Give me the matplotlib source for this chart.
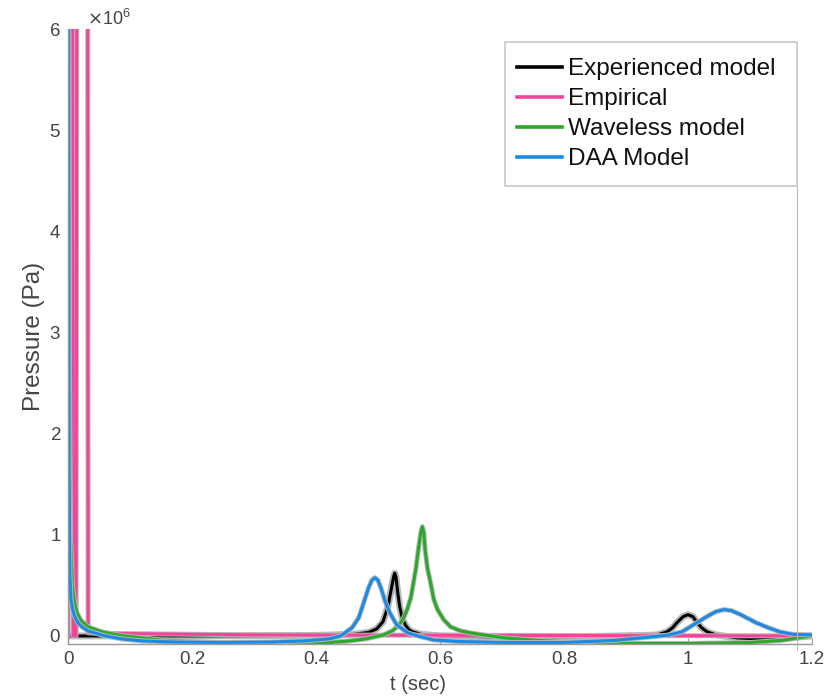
import matplotlib
matplotlib.use("Agg")
import matplotlib.pyplot as plt
import matplotlib.patheffects as pe
from matplotlib.lines import Line2D
from matplotlib.patches import Rectangle
from matplotlib.ticker import ScalarFormatter

plt.rcParams['font.family'] = ['Liberation Sans', 'DejaVu Sans']

MEGA = 1e6

# Experienced model
t_exp = [0, 0.05, 0.2, 0.4, 0.46, 0.485, 0.498, 0.508, 0.516, 0.521, 0.525, 0.527,
         0.529, 0.532, 0.535, 0.539, 0.544, 0.55, 0.556, 0.57, 0.6, 0.7, 0.85, 0.93,
         0.95, 0.966, 0.975, 0.982, 0.992, 1.0, 1.008, 1.015, 1.022, 1.031, 1.045,
         1.08, 1.12, 1.16, 1.2]
p_exp = [0, 0.0, 0.0, 0.005, 0.015, 0.035, 0.07, 0.14, 0.29, 0.45, 0.58, 0.62,
         0.58, 0.42, 0.29, 0.18, 0.11, 0.06, 0.04, 0.015, 0.0, -0.01, -0.005, 0.005,
         0.01, 0.04, 0.08, 0.13, 0.19, 0.21, 0.19, 0.13, 0.08, 0.04, 0.01,
         -0.02, -0.03, -0.02, 0.0]

# Empirical
t_emp = [0, 0.0005, 0.007, 0.0085, 0.013, 0.0145, 0.0315, 0.0325, 0.06, 0.3, 0.7, 1.2]
p_emp = [0, 8, 8, 0.0, 0.0, 8, 8, 0.03, 0.025, 0.01, 0.005, 0.0]

# Waveless model
t_wav = [0, 0.001, 0.002, 0.004, 0.007, 0.0105, 0.0145, 0.02, 0.032, 0.055, 0.09,
         0.15, 0.25, 0.35, 0.4, 0.453, 0.48, 0.509, 0.523, 0.531, 0.54, 0.547, 0.553,
         0.557, 0.561, 0.565, 0.569, 0.5715, 0.574, 0.576, 0.58, 0.585, 0.59, 0.596,
         0.606, 0.617, 0.633, 0.649, 0.67, 0.705, 0.76, 0.81, 0.9, 1.0, 1.1, 1.15, 1.2]
p_wav = [8, 7, 3, 1.0, 0.5, 0.33, 0.23, 0.16, 0.09, 0.04, 0.0,
         -0.04, -0.07, -0.08, -0.075, -0.05, -0.03, 0.01, 0.05, 0.09, 0.16, 0.26, 0.38,
         0.52, 0.66, 0.85, 1.02, 1.08, 1.02, 0.85, 0.66, 0.52, 0.36, 0.26,
         0.16, 0.09, 0.05, 0.03, 0.01, -0.02, -0.045, -0.06, -0.075, -0.075, -0.065, -0.045, 0.0]

# DAA Model
t_daa = [0, 0.001, 0.002, 0.003, 0.005, 0.008, 0.011, 0.016, 0.0225, 0.032, 0.043,
         0.06, 0.087, 0.12, 0.172, 0.25, 0.33, 0.38, 0.42, 0.44, 0.458, 0.469, 0.477,
         0.485, 0.49, 0.495, 0.5, 0.505, 0.511, 0.519, 0.53, 0.548, 0.57, 0.59, 0.63,
         0.7, 0.8, 0.88, 0.94, 0.97, 0.99, 1.017, 1.03, 1.045, 1.058, 1.07, 1.085,
         1.11, 1.13, 1.148, 1.17, 1.2]
p_daa = [8, 6, 1.5, 0.6, 0.35, 0.25, 0.19, 0.13, 0.09, 0.05, 0.03,
         0.0, -0.03, -0.05, -0.06, -0.065, -0.06, -0.05, -0.03, 0.0, 0.08, 0.18, 0.33,
         0.48, 0.55, 0.575, 0.55, 0.47, 0.35, 0.23, 0.11, 0.03, -0.01, -0.04, -0.055,
         -0.065, -0.065, -0.045, -0.01, 0.01, 0.04, 0.14, 0.19, 0.24, 0.26, 0.25, 0.21,
         0.13, 0.08, 0.04, 0.015, 0.01]

series = [
    ("Experienced model", t_exp, p_exp, "black"),
    ("Empirical", t_emp, p_emp, "#f2459a"),
    ("Waveless model", t_wav, p_wav, "#2ea82a"),
    ("DAA Model", t_daa, p_daa, "#1a8ae6"),
]

W, H = 828, 699
fig = plt.figure(figsize=(W / 100, H / 100), dpi=100)
ax = fig.add_axes([68 / W, 1 - 644 / H, (812 - 68) / W, (644 - 29) / H])

for name, t, p, col in series:
    halo = 5.0 if col == "black" else 3.6
    ax.plot(t, [v * MEGA for v in p], color=col, lw=2.2,
            path_effects=[pe.Stroke(linewidth=halo, foreground="#b8b8b8"), pe.Normal()])

ax.set_xlim(0, 1.2)
ax.set_ylim(-0.08 * MEGA, 6 * MEGA)
ax.set_xticks([0, 0.2, 0.4, 0.6, 0.8, 1.0, 1.2])
ax.set_xticklabels(["0", "0.2", "0.4", "0.6", "0.8", "1", "1.2"])
ax.set_yticks([i * MEGA for i in range(7)])

fmt = ScalarFormatter(useMathText=True)
fmt.set_powerlimits((0, 0))
ax.yaxis.set_major_formatter(fmt)
ax.yaxis.offsetText.set_fontsize(13)
ax.yaxis.offsetText.set_color("#555555")
ax.yaxis.offsetText.set_x(0.025)

for s in ["top", "right"]:
    ax.spines[s].set_visible(False)
for s in ["left", "bottom"]:
    ax.spines[s].set_color("#999999")
    ax.spines[s].set_linewidth(1.0)
ax.tick_params(direction="in", length=4, color="#999999", labelcolor="#444444",
               labelsize=13.5, pad=5)

ax.set_xlabel("t (sec)", fontsize=14.5, color="#444444")
ax.xaxis.set_label_coords(0.47, -0.05)
ax.set_ylabel("Pressure (Pa)", fontsize=17.5, color="#444444")
ax.yaxis.set_label_coords(-0.031, 0.5)

# legend box and the thin guide line below it
fig.add_artist(Rectangle((505 / W, 1 - 186 / H), (797 - 505) / W, (186 - 42) / H,
                         transform=fig.transFigure, facecolor="white",
                         edgecolor="#c8c8c8", lw=1.2, zorder=5))
fig.add_artist(Line2D([797 / W, 797 / W], [1 - 650 / H, 1 - 186 / H],
                      transform=fig.transFigure, color="#bbbbbb", lw=0.8, zorder=4))

handles = [Line2D([], [], color=c, lw=2.6) for _, _, _, c in series]
leg = fig.legend(handles, [n for n, _, _, _ in series], loc="upper left",
                 bbox_to_anchor=(517 / W, 1 - 58 / H), frameon=False,
                 fontsize=17.5, handlelength=1.85, handletextpad=0.25,
                 labelspacing=0.33, borderpad=0, borderaxespad=0)
leg.set_zorder(6)
for txt in leg.get_texts():
    txt.set_color("#111111")

fig.savefig("out.png", dpi=100)
